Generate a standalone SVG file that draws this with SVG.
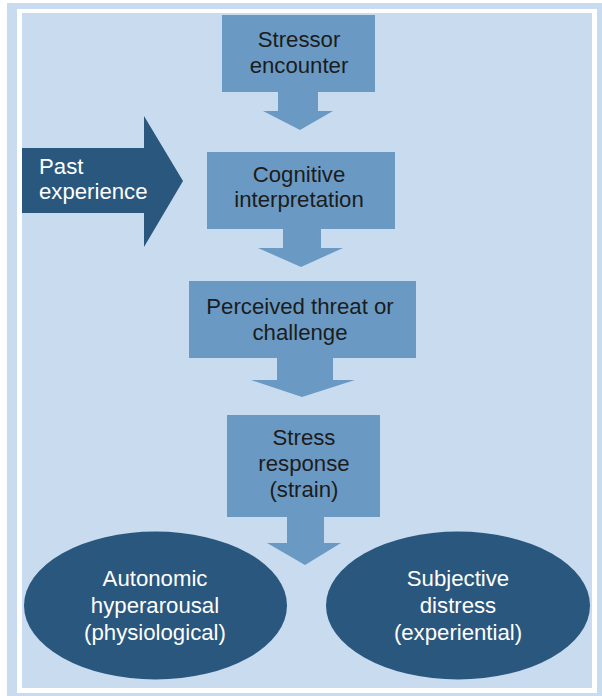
<svg xmlns="http://www.w3.org/2000/svg" width="602" height="696" viewBox="0 0 602 696">
<style>
.box{fill:#6a9ac4}
.dark{fill:#2a577e}
.t{font-family:"Liberation Sans",Arial,sans-serif;font-size:22.2px;fill:#1c1c1c;text-anchor:middle}
.w{fill:#ffffff}
.l{text-anchor:start}
</style>
<rect x="0" y="0" width="602" height="696" fill="#ffffff"/>
<rect x="7" y="3" width="595" height="693" fill="#c9dbef"/>
<rect x="17" y="9" width="580" height="684" fill="#ffffff"/>
<rect x="22" y="13" width="570" height="675" fill="#c9dbef"/>
<g id="connectors">
<polygon class="box" points="278,91 318,91 318,111 333,111 300,130 263,111 278,111"/>
<polygon class="box" points="283,228 321,228 321,248 343,248 301,267 258,248 283,248"/>
<polygon class="box" points="277,357 333,357 333,380 355,380 302,397 251,380 277,380"/>
<polygon class="box" points="287,516 324,516 324,543 341,543 305,565 267,543 287,543"/>
</g>
<g id="past">
<polygon class="dark" points="22,148 144,148 144,116 183,181 144,247 144,213 22,213"/>
<text class="t w l" x="39" y="174">Past</text>
<text class="t w l" x="39" y="199">experience</text>
</g>
<g id="stressor">
<rect class="box" x="222" y="15" width="153" height="77"/>
<text class="t" x="299" y="47">Stressor</text>
<text class="t" x="299" y="73">encounter</text>
</g>
<g id="cognitive">
<rect class="box" x="207" y="152" width="188" height="77"/>
<text class="t" x="299" y="182">Cognitive</text>
<text class="t" x="299" y="207">interpretation</text>
</g>
<g id="perceived">
<rect class="box" x="189" y="281" width="227" height="77"/>
<text class="t" x="300" y="314">Perceived threat or</text>
<text class="t" x="300" y="340">challenge</text>
</g>
<g id="response">
<rect class="box" x="227" y="415" width="153" height="102"/>
<text class="t" x="304" y="445">Stress</text>
<text class="t" x="304" y="471">response</text>
<text class="t" x="304" y="497">(strain)</text>
</g>
<g id="autonomic">
<ellipse class="dark" cx="155.5" cy="605.5" rx="131.5" ry="74"/>
<text class="t w" x="155" y="586">Autonomic</text>
<text class="t w" x="155" y="613">hyperarousal</text>
<text class="t w" x="155" y="640">(physiological)</text>
</g>
<g id="subjective">
<ellipse class="dark" cx="458" cy="605.5" rx="132" ry="74"/>
<text class="t w" x="458" y="586">Subjective</text>
<text class="t w" x="458" y="613">distress</text>
<text class="t w" x="458" y="640">(experiential)</text>
</g>
</svg>
